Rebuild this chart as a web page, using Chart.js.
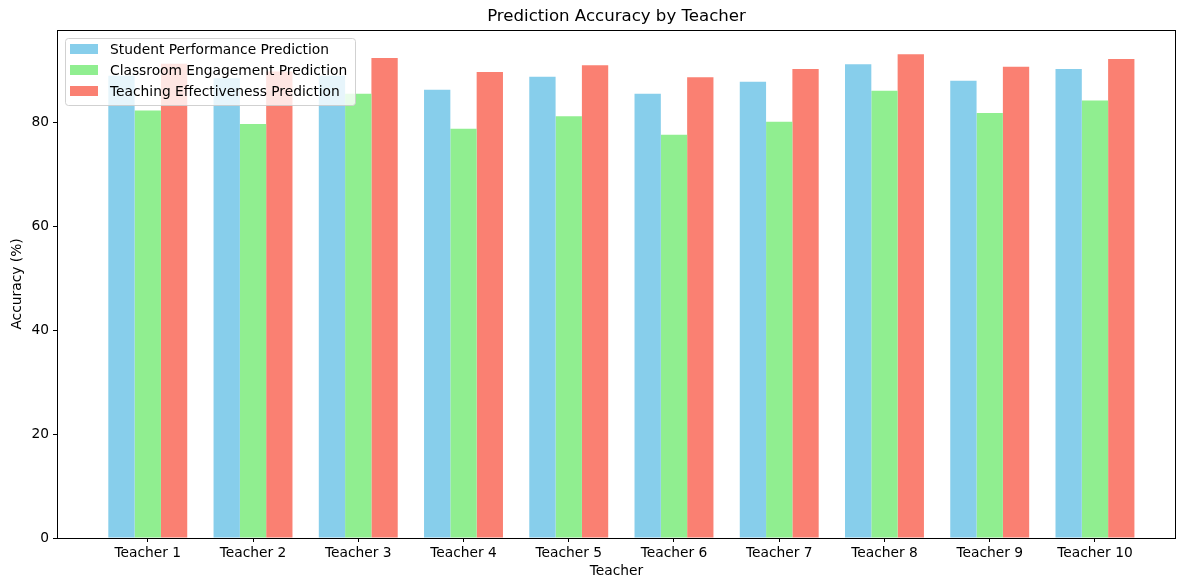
<!DOCTYPE html>
<html>
<head>
<meta charset="utf-8">
<script src="https://cdn.jsdelivr.net/npm/chart.js@4"></script>
<style>
html,body{margin:0;padding:0;background:#fff;}
#wrap{width:1178px;height:581px;position:relative;}
</style>
</head>
<body>
<div id="wrap"><canvas id="c" width="1178" height="581"></canvas></div>
<script>
const categories = ["Teacher 1","Teacher 2","Teacher 3","Teacher 4","Teacher 5","Teacher 6","Teacher 7","Teacher 8","Teacher 9","Teacher 10"];
const studentPerformance = [89.0, 88.5, 89.0, 86.3, 88.8, 85.5, 87.8, 91.2, 88.0, 90.3];
const classroomEngagement = [82.3, 79.7, 85.5, 78.8, 81.2, 77.6, 80.1, 86.1, 81.8, 84.2];
const teachingEffectiveness = [91.3, 89.8, 92.4, 89.7, 91.0, 88.7, 90.3, 93.1, 90.7, 92.2];
const yTicks = [0, 20, 40, 60, 80];
const seriesLabels = ["Student Performance Prediction","Classroom Engagement Prediction","Teaching Effectiveness Prediction"];
const seriesColors = ["#87CEEB","#90EE90","#FA8072"];

const toPoints = arr => arr.map((v,i)=>({x:i, y:v}));
const FONT = "'DejaVu Sans', sans-serif";
const FS = 13.8;
Chart.defaults.color = '#000';
Chart.defaults.font.family = FONT;

const frame = {
  id:'frame',
  afterDatasetsDraw(chart){
    const {ctx, chartArea:a} = chart;
    ctx.save();
    ctx.strokeStyle = '#000';
    ctx.lineWidth = 1;
    ctx.strokeRect(Math.round(a.left)+0.5, Math.round(a.top)+0.5, Math.round(a.right-a.left)-1, Math.round(a.bottom-a.top));
    // legend
    const bx = 65, by = 38, bw = 290, bh = 67;
    ctx.fillStyle = 'rgba(255,255,255,0.8)';
    ctx.strokeStyle = 'rgba(204,204,204,0.9)';
    ctx.beginPath();
    if (ctx.roundRect) ctx.roundRect(bx+0.5, by+0.5, bw, bh, 3); else ctx.rect(bx+0.5,by+0.5,bw,bh);
    ctx.fill(); ctx.stroke();
    ctx.font = FS + "px " + FONT;
    ctx.textBaseline = 'middle';
    chart.data.datasets.forEach((ds, i) => {
      const cy = 49 + i*21;
      ctx.fillStyle = ds.backgroundColor;
      ctx.fillRect(70, cy-5, 28, 10);
      ctx.fillStyle = '#000';
      ctx.fillText(ds.label, 110, cy+1);
    });
    ctx.restore();
  }
};

new Chart(document.getElementById('c'), {
  type:'bar',
  data:{
    datasets:[
      {label:seriesLabels[0], data:toPoints(studentPerformance), backgroundColor:seriesColors[0]},
      {label:seriesLabels[1], data:toPoints(classroomEngagement), backgroundColor:seriesColors[1]},
      {label:seriesLabels[2], data:toPoints(teachingEffectiveness), backgroundColor:seriesColors[2]}
    ]
  },
  options:{
    responsive:false,
    animation:false,
    layout:{padding:{left:0,right:2,top:0,bottom:0}},
    datasets:{bar:{categoryPercentage:0.75, barPercentage:1.0, grouped:true, borderWidth:0}},
    plugins:{
      legend:{display:false},
      tooltip:{enabled:false},
      title:{display:true, fullSize:false, text:'Prediction Accuracy by Teacher', font:{size:16.6, weight:'normal', family:FONT}, color:'#000', padding:{top:7,bottom:3}}
    },
    scales:{
      x:{
        type:'linear', min:-0.8625, max:9.77, offset:false,
        afterBuildTicks(s){ s.ticks = categories.map((_,i)=>({value:i})); },
        ticks:{callback:(v)=>categories[v], font:{size:FS}, padding:3, maxRotation:0, autoSkip:false, color:'#000'},
        grid:{offset:false, drawOnChartArea:false, drawTicks:true, tickLength:4, color:'#000'},
        border:{display:false},
        title:{display:true, text:'Teacher', font:{size:FS}, padding:{top:0,bottom:1}, color:'#000'},
        afterFit(s){ s.height = 43; }
      },
      y:{
        min:0, max:97.8,
        afterBuildTicks(s){ s.ticks = yTicks.map(v=>({value:v})); },
        ticks:{font:{size:FS}, padding:4, color:'#000'},
        grid:{drawOnChartArea:false, drawTicks:true, tickLength:4, color:'#000'},
        border:{display:false},
        title:{display:true, text:'Accuracy (%)', font:{size:FS}, padding:{top:9,bottom:0}, color:'#000'},
        afterFit(s){ s.width = 57; }
      }
    }
  },
  plugins:[frame]
});
</script>
</body>
</html>
